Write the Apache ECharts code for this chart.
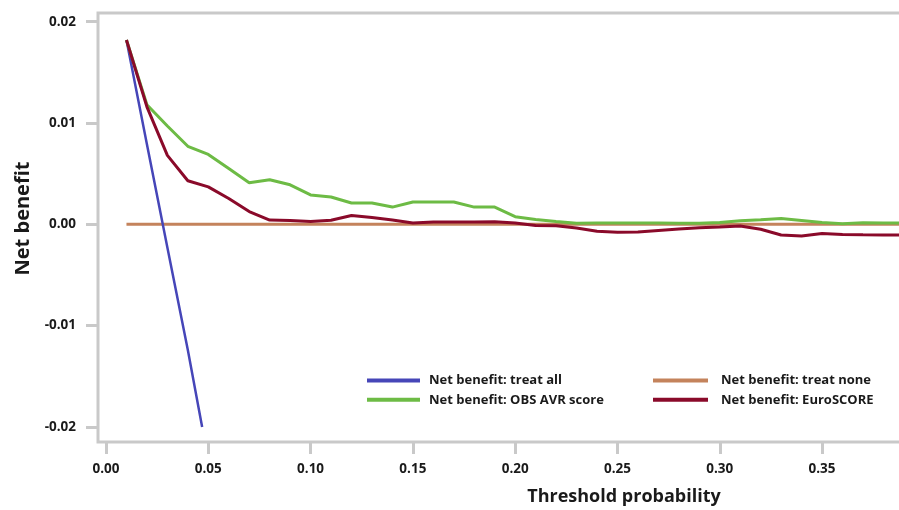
<!DOCTYPE html>
<html>
<head>
<meta charset="utf-8">
<script src="https://cdn.jsdelivr.net/npm/echarts@6/dist/echarts.min.js"></script>
<style>
html,body{margin:0;padding:0;background:#fff;}
#chart{width:899px;height:510px;}
</style>
</head>
<body>
<div id="chart"></div>
<script>
// Threshold probabilities
var thresholds = [0.01,0.02,0.03,0.04,0.05,0.06,0.07,0.08,0.09,0.10,0.11,0.12,0.13,0.14,0.15,0.16,0.17,0.18,0.19,0.20,0.21,0.22,0.23,0.24,0.25,0.26,0.27,0.28,0.29,0.30,0.31,0.32,0.33,0.34,0.35,0.36,0.37,0.38,0.39];
// Net benefit: treat all (ends near 0.047)
var treatAllX = [0.01,0.02,0.03,0.04,0.047];
var treatAll = [0.0182,0.0079,-0.0023,-0.0124,-0.0200];
// Net benefit: treat none
var treatNone = [0,0,0,0,0,0,0,0,0,0,0,0,0,0,0,0,0,0,0,0,0,0,0,0,0,0,0,0,0,0,0,0,0,0,0,0,0,0,0];
// Net benefit: OBS AVR score
var obsAvr = [0.0182,0.0118,0.0097,0.0077,0.0069,0.0055,0.0041,0.0044,0.0039,0.0029,0.0027,0.0021,0.0021,0.0017,0.0022,0.0022,0.0022,0.0017,0.0017,0.00075,0.00047,0.00028,0.0001,0.00012,0.00012,0.00012,0.00012,0.0001,0.0001,0.00018,0.00035,0.00045,0.00057,0.00038,0.00018,0.00005,0.00016,0.00013,0.00013];
// Net benefit: EuroSCORE
var euroScore = [0.0182,0.0116,0.0068,0.0043,0.0037,0.00255,0.00126,0.00042,0.00038,0.00028,0.0004,0.00087,0.00067,0.00042,0.00013,0.00023,0.00023,0.00023,0.00026,0.00013,-0.00012,-0.00015,-0.00037,-0.00068,-0.00078,-0.00076,-0.00061,-0.00046,-0.00035,-0.00027,-0.00017,-0.00049,-0.00106,-0.00116,-0.00091,-0.00101,-0.00104,-0.00106,-0.00106];
// Tick labels
var xTicks = [0,0.05,0.10,0.15,0.20,0.25,0.30,0.35,0.40];
var yTicks = [-0.02,-0.01,0,0.01,0.02];

function pairs(xs, ys){ return xs.map(function(x,i){ return [x, ys[i]]; }); }

var gray = '#c9c9c9';
var font = '"Open Sans", "Noto Sans", sans-serif';
var chart = echarts.init(document.getElementById('chart'), null, {renderer:'canvas'});
chart.setOption({
  backgroundColor: '#ffffff',
  animation: false,
  grid: {
    left: 98, top: 13, width: 1052, height: 429,
    show: true, borderColor: gray, borderWidth: 3, backgroundColor: 'transparent',
    containLabel: false, outerBoundsMode: 'none'
  },
  xAxis: {
    type: 'value', min: -0.00391, max: 0.5103,
    name: 'Threshold probability', nameLocation: 'middle', nameGap: 46,
    nameTextStyle: {fontFamily: font, fontWeight: 'bold', fontSize: 18, color: '#1a1a1a'},
    axisLine: {show: false, onZero: false},
    axisTick: {show: true, length: 12, lineStyle: {color: gray, width: 3}, customValues: xTicks},
    axisLabel: {fontFamily: font, fontWeight: 'bold', fontSize: 13.5, color: '#1a1a1a', margin: 20,
      customValues: xTicks, formatter: function(v){ return v.toFixed(2); }},
    splitLine: {show: false}
  },
  yAxis: {
    type: 'value', min: -0.02149, max: 0.02086,
    name: 'Net benefit', nameLocation: 'middle', nameGap: 64, nameRotate: 90,
    nameTextStyle: {fontFamily: font, fontWeight: 'bold', fontSize: 20, color: '#1a1a1a', padding: [0,0,0,18]},
    axisLine: {show: false, onZero: false},
    axisTick: {show: true, length: 12, lineStyle: {color: gray, width: 3}, customValues: yTicks},
    axisLabel: {fontFamily: font, fontWeight: 'bold', fontSize: 13.5, color: '#1a1a1a', margin: 22,
      customValues: yTicks, formatter: function(v){ return v.toFixed(2); }},
    splitLine: {show: false}
  },
  legend: [{
    left: 367, top: 372.5, padding: 0, orient: 'vertical', itemGap: 3.3,
    itemWidth: 53, itemHeight: 4, icon: 'rect',
    textStyle: {fontFamily: font, fontWeight: 'bold', fontSize: 13, color: '#1a1a1a', lineHeight: 16, padding: [0,0,0,4]},
    data: ['Net benefit: treat all', 'Net benefit: OBS AVR score']
  }, {
    left: 653, top: 372.5, padding: 0, orient: 'vertical', itemGap: 3.3,
    itemWidth: 55, itemHeight: 4, icon: 'rect',
    textStyle: {fontFamily: font, fontWeight: 'bold', fontSize: 13, color: '#1a1a1a', lineHeight: 16, padding: [0,0,0,8]},
    data: ['Net benefit: treat none', 'Net benefit: EuroSCORE']
  }],
  series: [
    {name: 'Net benefit: treat none', type: 'line', data: pairs(thresholds, treatNone), showSymbol: false,
      color: '#c4835c', lineStyle: {width: 3, color: '#c4835c'}, z: 2},
    {name: 'Net benefit: treat all', type: 'line', data: pairs(treatAllX, treatAll), showSymbol: false,
      color: '#4646b8', lineStyle: {width: 2.5, color: '#4646b8'}, z: 3},
    {name: 'Net benefit: OBS AVR score', type: 'line', data: pairs(thresholds, obsAvr), showSymbol: false,
      color: '#6dbb45', lineStyle: {width: 3, color: '#6dbb45'}, z: 4},
    {name: 'Net benefit: EuroSCORE', type: 'line', data: pairs(thresholds, euroScore), showSymbol: false,
      color: '#8a0a2a', lineStyle: {width: 3, color: '#8a0a2a'}, z: 5}
  ]
});
</script>
</body>
</html>
